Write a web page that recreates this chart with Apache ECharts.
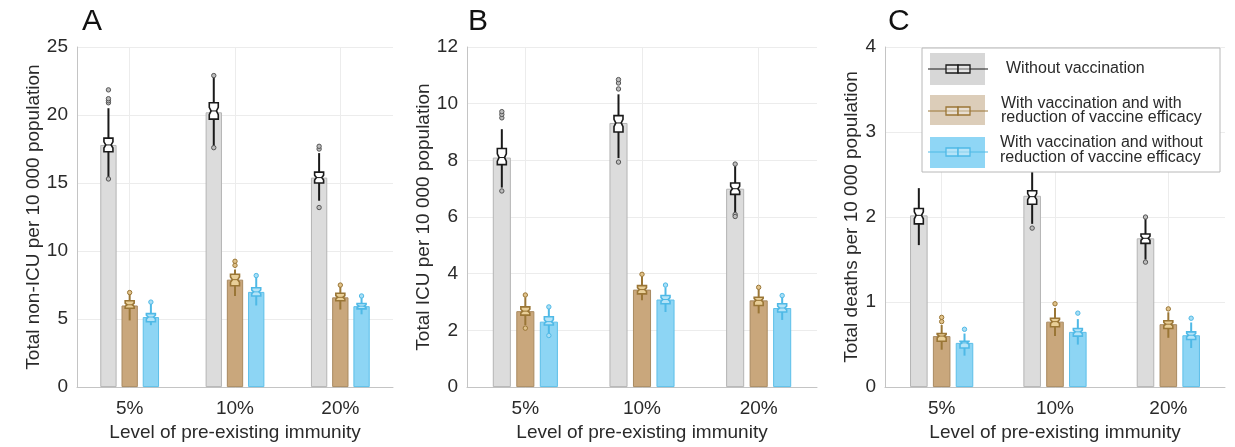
<!DOCTYPE html>
<html><head><meta charset="utf-8">
<script src="https://cdn.jsdelivr.net/npm/echarts@6/dist/echarts.min.js"></script>
<style>html,body{margin:0;padding:0;background:#fff}#c{width:1235px;height:447px}</style>
</head><body><div id="c"></div>
<script>
const categories = ['5%', '10%', '20%'];
const xAxisName = 'Level of pre-existing immunity';
const panelLetters = ['A', 'B', 'C'];
const yNames = ['Total non-ICU per 10 000 population', 'Total ICU per 10 000 population', 'Total deaths per 10 000 population'];
const yMax = [25, 12, 4];
const yInterval = [5, 2, 1];
const legendNames = ['Without vaccination', 'With vaccination and with\nreduction of vaccine efficacy', 'With vaccination and without\nreduction of vaccine efficacy'];

// Panel A: non-ICU
const A_noVac = [17.8, 20.2, 15.4];
const A_red = [6.0, 7.9, 6.6];
const A_noRed = [5.15, 7.0, 5.95];
const A_noVacBox = [[15.4, 17.3, 17.8, 18.3, 20.5], [17.7, 19.7, 20.3, 20.9, 22.9], [13.7, 15.0, 15.4, 15.8, 17.2]];
const A_redBox = [[4.9, 5.8, 6.05, 6.35, 6.95], [6.7, 7.45, 7.9, 8.3, 8.65], [5.7, 6.35, 6.6, 6.9, 7.5]];
const A_noRedBox = [[4.55, 4.8, 5.15, 5.4, 6.2], [6.0, 6.7, 7.0, 7.3, 8.1], [5.35, 5.75, 5.95, 6.15, 6.7]];
const A_noVacOut = [[0, 15.3], [0, 20.9], [0, 21.05], [0, 21.2], [0, 21.85], [1, 22.9], [1, 17.6], [2, 13.2], [2, 17.5], [2, 17.7]];
const A_redOut = [[0, 6.95], [1, 8.95], [1, 9.25], [2, 7.5]];
const A_noRedOut = [[0, 6.25], [1, 8.2], [2, 6.7]];

// Panel B: ICU
const B_noVac = [8.1, 9.32, 7.0];
const B_red = [2.68, 3.44, 3.06];
const B_noRed = [2.31, 3.09, 2.79];
const B_noVacBox = [[7.04, 7.85, 8.1, 8.42, 9.1], [8.08, 9.0, 9.32, 9.58, 10.33], [6.17, 6.8, 7.0, 7.2, 7.8]];
const B_redBox = [[2.19, 2.54, 2.68, 2.83, 3.17], [3.06, 3.29, 3.44, 3.58, 3.9], [2.6, 2.88, 3.06, 3.17, 3.45]];
const B_noRedBox = [[1.9, 2.19, 2.31, 2.48, 2.78], [2.65, 2.94, 3.09, 3.23, 3.52], [2.37, 2.65, 2.79, 2.94, 3.17]];
const B_noVacOut = [[0, 6.92], [0, 9.5], [0, 9.62], [0, 9.72], [1, 7.94], [1, 10.52], [1, 10.73], [1, 10.85], [2, 7.87], [2, 6.09], [2, 6.02]];
const B_redOut = [[0, 2.08], [0, 3.25], [1, 3.98], [2, 3.52]];
const B_noRedOut = [[0, 1.82], [0, 2.83], [1, 3.6], [2, 3.23]];

// Panel C: deaths
const C_noVac = [2.02, 2.25, 1.75];
const C_red = [0.6, 0.77, 0.74];
const C_noRed = [0.52, 0.65, 0.61];
const C_noVacBox = [[1.67, 1.92, 2.02, 2.1, 2.34], [1.92, 2.15, 2.24, 2.31, 2.6], [1.5, 1.69, 1.75, 1.8, 1.98]];
const C_redBox = [[0.44, 0.54, 0.6, 0.63, 0.73], [0.6, 0.71, 0.77, 0.81, 0.93], [0.58, 0.69, 0.74, 0.78, 0.88]];
const C_noRedBox = [[0.37, 0.46, 0.52, 0.54, 0.63], [0.5, 0.6, 0.65, 0.69, 0.8], [0.46, 0.56, 0.61, 0.65, 0.76]];
const C_noVacOut = [[1, 1.87], [2, 2.0], [2, 1.47]];
const C_redOut = [[0, 0.77], [0, 0.82], [1, 0.98], [2, 0.92]];
const C_noRedOut = [[0, 0.68], [1, 0.87], [2, 0.81]];

const panels = [
  { bars: [A_noVac, A_red, A_noRed], boxes: [A_noVacBox, A_redBox, A_noRedBox], outs: [A_noVacOut, A_redOut, A_noRedOut] },
  { bars: [B_noVac, B_red, B_noRed], boxes: [B_noVacBox, B_redBox, B_noRedBox], outs: [B_noVacOut, B_redOut, B_noRedOut] },
  { bars: [C_noVac, C_red, C_noRed], boxes: [C_noVacBox, C_redBox, C_noRedBox], outs: [C_noVacOut, C_redOut, C_noRedOut] }
];

const grids = [
  { left: 77, width: 316, top: 47, height: 346, nameGap: 33 },
  { left: 467, width: 350, top: 47, height: 346, nameGap: 34 },
  { left: 885, width: 340, top: 47, height: 346, nameGap: 24 }
];

const FONT = 'Liberation Sans, Arial, Helvetica, sans-serif';
const barFill = ['#dcdcdc', '#c9a77c', '#8dd5f4'];
const barEdge = ['#b4b4b4', '#a98a60', '#5cbfe9'];
const boxColor = ['#1a1a1a', '#9a7636', '#4fb9e6'];
const boxFill = ['#ffffff', '#e9cf98', '#b5e4f8'];
const outFill = ['#bdbdbd', '#e0c28a', '#a8def5'];
const BAR_W = 0.155, BAR_GAP = 0.30;
const SPACING = BAR_W * (1 + BAR_GAP);

function boxRender(slot) {
  return function (params, api) {
    const cat = api.value(0);
    const bw = api.size([1, 0])[0];
    const x = api.coord([cat, 0])[0] + (slot - 1) * bw * SPACING;
    const y = i => api.coord([cat, api.value(i)])[1];
    const yLo = y(1), yQ1 = y(2), yMed = y(3), yQ3 = y(4), yHi = y(5);
    const hw = 4.5, notch = 1.8;
    const half = (yQ1 - yQ3) / 2;
    const nh = Math.max(1.5, half * 0.45);
    const nT = yMed - nh, nB = yMed + nh;
    const pts = [[x - hw, yQ3], [x + hw, yQ3], [x + hw, nT], [x + hw - notch, yMed], [x + hw, nB], [x + hw, yQ1],
                 [x - hw, yQ1], [x - hw, nB], [x - hw + notch, yMed], [x - hw, nT]];
    const c = boxColor[slot];
    return { type: 'group', children: [
      { type: 'line', shape: { x1: x, y1: yHi, x2: x, y2: yQ3 }, style: { stroke: c, lineWidth: 2 } },
      { type: 'line', shape: { x1: x, y1: yQ1, x2: x, y2: yLo }, style: { stroke: c, lineWidth: 2 } },
      { type: 'polygon', shape: { points: pts }, style: { fill: boxFill[slot], stroke: c, lineWidth: 1.6 } },
      { type: 'line', shape: { x1: x - hw + notch, y1: yMed, x2: x + hw - notch, y2: yMed }, style: { stroke: c, lineWidth: 1 } }
    ] };
  };
}
function outRender(slot) {
  return function (params, api) {
    const cat = api.value(0);
    const bw = api.size([1, 0])[0];
    const p = api.coord([cat, api.value(1)]);
    return { type: 'circle', shape: { cx: p[0] + (slot - 1) * bw * SPACING, cy: p[1], r: 2.2 },
             style: { fill: outFill[slot], stroke: slot === 0 ? '#555' : boxColor[slot], lineWidth: 1 } };
  };
}

const option = { animation: false, grid: [], xAxis: [], yAxis: [], series: [], graphic: [] };

panels.forEach((pn, k) => {
  const g = grids[k];
  option.grid.push({ left: g.left, top: g.top, width: g.width, height: g.height, containLabel: false });
  option.xAxis.push({
    type: 'category', gridIndex: k, data: categories,
    name: xAxisName, nameLocation: 'middle', nameGap: 34,
    nameTextStyle: { fontFamily: FONT, fontSize: 19, color: '#2a2a2a' },
    axisLine: { lineStyle: { color: '#c4c4c4', width: 1 } },
    axisTick: { show: false },
    axisLabel: { fontFamily: FONT, fontSize: 19, color: '#2a2a2a', margin: 12 },
    splitLine: { show: false }
  });
  option.yAxis.push({
    type: 'value', gridIndex: k, min: 0, max: yMax[k], interval: yInterval[k],
    name: yNames[k], nameLocation: 'middle', nameGap: g.nameGap, nameRotate: 90,
    nameTextStyle: { fontFamily: FONT, fontSize: 19, color: '#2a2a2a' },
    axisLine: { show: true, lineStyle: { color: '#c4c4c4', width: 1 } },
    axisTick: { show: false },
    axisLabel: { fontFamily: FONT, fontSize: 19, color: '#2a2a2a', margin: 9 },
    splitLine: { show: true, lineStyle: { color: '#ececec', width: 1 } }
  });
  // vertical grid lines at category centres
  option.series.push({
    type: 'line', xAxisIndex: k, yAxisIndex: k, data: [], z: 1, silent: true,
    markLine: { silent: true, symbol: 'none', z: 1, label: { show: false }, animation: false,
      lineStyle: { color: '#ececec', type: 'solid', width: 1 },
      data: categories.map(c => ({ xAxis: c })) }
  });
  pn.bars.forEach((vals, s) => {
    option.series.push({
      type: 'bar', xAxisIndex: k, yAxisIndex: k, data: vals, barWidth: (BAR_W * 100) + '%', barGap: (BAR_GAP * 100) + '%',
      itemStyle: { color: barFill[s], borderColor: barEdge[s], borderWidth: 1 }, z: 2, silent: true
    });
  });
  pn.boxes.forEach((bx, s) => {
    option.series.push({
      type: 'custom', xAxisIndex: k, yAxisIndex: k, renderItem: boxRender(s),
      data: bx.map((b, i) => [i].concat(b)), encode: { x: 0, y: [1, 2, 3, 4, 5] }, z: 3, silent: true
    });
  });
  pn.outs.forEach((o, s) => {
    option.series.push({
      type: 'custom', xAxisIndex: k, yAxisIndex: k, renderItem: outRender(s),
      data: o, encode: { x: 0, y: 1 }, z: 4, silent: true
    });
  });
  option.graphic.push({
    type: 'text', left: [82, 468, 888][k], top: 7, z: 10,
    style: { text: panelLetters[k], fontFamily: FONT, fontSize: 30, fill: '#111' }
  });
});

// Legend (panel C)
const lg = { x: 922, y: 48, w: 298, h: 124 };
const legendRowY = [69, 111, 152];
const legendPatch = [[53, 85], [95, 125], [137, 168]];
const legendPatchFill = ['#d7d7d7', '#dccdb9', '#8fd6f5'];
const legendText = [{ x: 1006, y: 69 }, { x: 1001, y: 110.5 }, { x: 1000, y: 150 }];
option.graphic.push({ type: 'rect', shape: { x: lg.x, y: lg.y, width: lg.w, height: lg.h }, style: { fill: '#fff', stroke: '#b8b8b8', lineWidth: 1 }, z: 20 });
legendNames.forEach((nm, i) => {
  const cy = legendRowY[i];
  const c = boxColor[i];
  option.graphic.push({ type: 'rect', shape: { x: 930, y: legendPatch[i][0], width: 55, height: legendPatch[i][1] - legendPatch[i][0] }, style: { fill: legendPatchFill[i] }, z: 21 });
  option.graphic.push({ type: 'line', shape: { x1: 928, y1: cy, x2: 988, y2: cy }, style: { stroke: c, lineWidth: 1.2 }, z: 22 });
  option.graphic.push({ type: 'rect', shape: { x: 946, y: cy - 4, width: 12, height: 8 }, style: { fill: 'rgba(255,255,255,0.35)', stroke: c, lineWidth: 1.3 }, z: 23 });
  option.graphic.push({ type: 'rect', shape: { x: 958, y: cy - 4, width: 12, height: 8 }, style: { fill: 'rgba(255,255,255,0.35)', stroke: c, lineWidth: 1.3 }, z: 23 });
  option.graphic.push({ type: 'text', x: legendText[i].x, y: legendText[i].y, z: 23,
    style: { text: nm, fontFamily: FONT, fontSize: 16, lineHeight: 14.5, fill: '#2a2a2a', verticalAlign: 'middle', align: 'left' } });
});

const chart = echarts.init(document.getElementById('c'), null, { renderer: 'canvas' });
chart.setOption(option);
</script></body></html>
